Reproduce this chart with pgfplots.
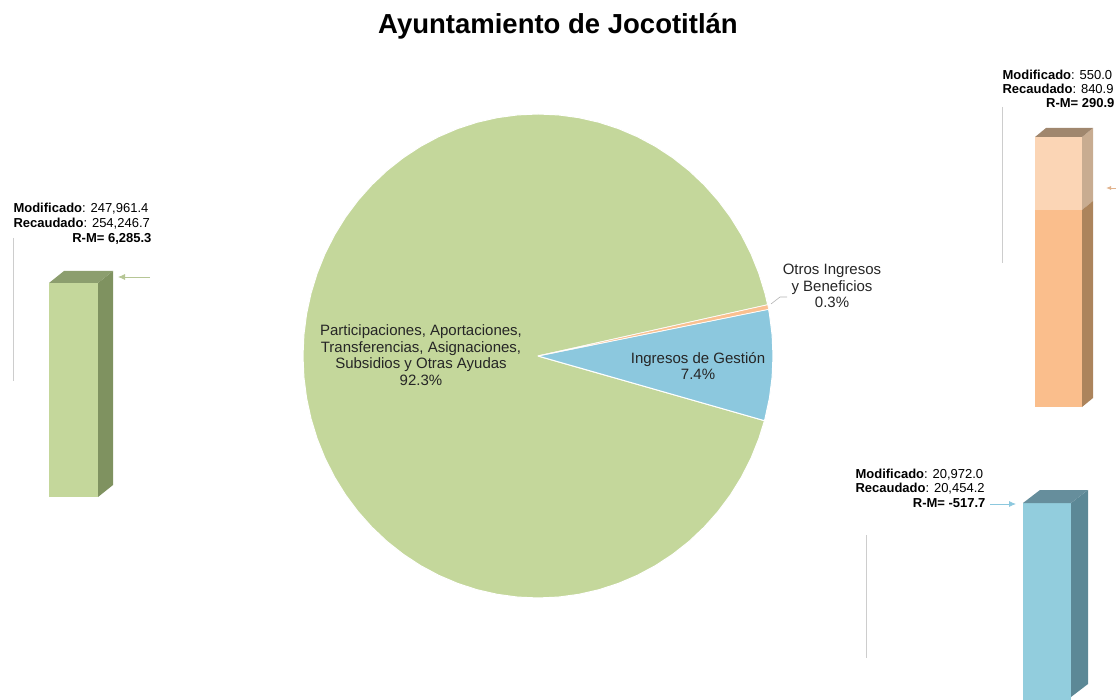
\documentclass[border=0pt]{standalone}
\usepackage{pgfplots}
\pgfplotsset{compat=1.18}
\usepackage{fontspec}
\setmainfont{Liberation Sans}
\usetikzlibrary{arrows.meta}

\definecolor{piegreen}{RGB}{196,215,155}
\definecolor{pieblue}{RGB}{140,200,222}
\definecolor{pieorange}{RGB}{250,192,144}
\definecolor{gside}{RGB}{127,146,96}
\definecolor{gtop}{RGB}{140,158,110}
\definecolor{ofront}{RGB}{250,190,140}
\definecolor{ofrontlt}{RGB}{251,213,181}
\definecolor{oside}{RGB}{172,132,92}
\definecolor{osidelt}{RGB}{200,172,145}
\definecolor{otop}{RGB}{160,135,110}
\definecolor{bfront}{RGB}{146,205,221}
\definecolor{bside}{RGB}{92,136,150}
\definecolor{btop}{RGB}{102,142,156}
\definecolor{leader}{RGB}{205,205,205}

\newcommand{\lbl}{\fontsize{13}{15}\selectfont}
\newcommand{\pielbl}{\fontsize{15}{16.7}\selectfont}

\begin{document}
\begin{tikzpicture}
% pie: 92.3 / 7.4 / 0.3 per cent, drawn in polar data coordinates
\begin{axis}[
  at={(538pt,344pt)}, anchor=center,
  width=470pt, height=484pt, scale only axis,
  xmin=-1, xmax=1, ymin=-1, ymax=1,
  hide axis, clip=false]
\addplot[data cs=polar, fill=piegreen, draw=white, line width=1pt] coordinates {
(0,0) (12.22,1) (15,1) (20,1) (25,1) (30,1) (35,1) (40,1) (45,1) (50,1)
(55,1) (60,1) (65,1) (70,1) (75,1) (80,1) (85,1) (90,1) (95,1) (100,1)
(105,1) (110,1) (115,1) (120,1) (125,1) (130,1) (135,1) (140,1) (145,1)
(150,1) (155,1) (160,1) (165,1) (170,1) (175,1) (180,1) (185,1) (190,1)
(195,1) (200,1) (205,1) (210,1) (215,1) (220,1) (225,1) (230,1) (235,1)
(240,1) (245,1) (250,1) (255,1) (260,1) (265,1) (270,1) (275,1) (280,1)
(285,1) (290,1) (295,1) (300,1) (305,1) (310,1) (315,1) (320,1) (325,1)
(330,1) (335,1) (340,1) (344.5,1) (0,0)};
\addplot[data cs=polar, fill=pieblue, draw=white, line width=1pt] coordinates {
(0,0) (-15.5,1) (-15,1) (-10,1) (-5,1) (0,1) (5,1) (10,1) (11.14,1) (0,0)};
\addplot[data cs=polar, fill=pieorange, draw=white, line width=0.6pt] coordinates {
(0,0) (11.14,1) (12.22,1) (0,0)};
\end{axis}

% everything else in pixel coordinates of the reference
\begin{axis}[
  at={(0pt,0pt)}, anchor=south west,
  width=1119pt, height=700pt, scale only axis,
  xmin=0, xmax=1119, ymin=0, ymax=700, y dir=reverse,
  hide axis, clip=false]
\path (rel axis cs:0,0) rectangle (rel axis cs:1,1);

% green bar
\addplot[fill=piegreen, draw=none] coordinates {(49,283) (98,283) (98,497) (49,497)};
\addplot[fill=gside, draw=none] coordinates {(98,283) (113,271) (113,485) (98,497)};
\addplot[fill=gtop, draw=none] coordinates {(49,283) (64,271) (113,271) (98,283)};

% orange bar (modificado part below, excess above)
\addplot[fill=ofrontlt, draw=none] coordinates {(1035,137) (1082,137) (1082,210) (1035,210)};
\addplot[fill=ofront, draw=none] coordinates {(1035,210) (1082,210) (1082,407) (1035,407)};
\addplot[fill=osidelt, draw=none] coordinates {(1082,137) (1093,128) (1093,201) (1082,210)};
\addplot[fill=oside, draw=none] coordinates {(1082,210) (1093,201) (1093,398) (1082,407)};
\addplot[fill=otop, draw=none] coordinates {(1035,137) (1046,128) (1093,128) (1082,137)};

% blue bar
\addplot[fill=bfront, draw=none] coordinates {(1023,503) (1071,503) (1071,700) (1023,700)};
\addplot[fill=bside, draw=none] coordinates {(1071,503) (1088,490) (1088,684) (1071,697)};
\addplot[fill=btop, draw=none] coordinates {(1023,503) (1040,490) (1088,490) (1071,503)};

% leader lines
\addplot[leader, line width=0.8pt] coordinates {(13,238) (13,381)};
\addplot[leader, line width=0.8pt] coordinates {(1002,107) (1002,263)};
\addplot[leader, line width=0.8pt] coordinates {(866,535) (866,658)};
\addplot[gray!60, line width=0.6pt] coordinates {(771,304) (780,297) (787,297)};

% arrows
\addplot[piegreen!80!gray, line width=0.8pt, -{Latex[length=7pt,width=6pt]}] coordinates {(150,277) (118,277)};
\addplot[pieorange!80!gray, line width=0.8pt, -{Latex[length=5pt,width=4pt]}] coordinates {(1116,188) (1106,188)};
\addplot[pieblue, line width=0.8pt, -{Latex[length=7pt,width=6pt]}] coordinates {(990,504) (1016,504)};

% title
\node[anchor=base, font=\fontsize{27.5}{31}\selectfont\bfseries] at (axis cs:558,34) {Ayuntamiento de Jocotitlán};

% bar labels
\node[anchor=base west, font=\lbl] at (axis cs:10,213) {\textbf{Modificado}: 247,961.4};
\node[anchor=base west, font=\lbl] at (axis cs:10,228) {\textbf{Recaudado}: 254,246.7};
\node[anchor=base east, font=\lbl] at (axis cs:155,243) {\textbf{R-M= 6,285.3}};

\node[anchor=base west, font=\lbl] at (axis cs:999,80) {\textbf{Modificado}: 550.0};
\node[anchor=base west, font=\lbl] at (axis cs:999,94) {\textbf{Recaudado}: 840.9};
\node[anchor=base east, font=\lbl] at (axis cs:1118,108) {\textbf{R-M= 290.9}};

\node[anchor=base west, font=\lbl] at (axis cs:852,478) {\textbf{Modificado}: 20,972.0};
\node[anchor=base west, font=\lbl] at (axis cs:852,492) {\textbf{Recaudado}: 20,454.2};
\node[anchor=base east, font=\lbl] at (axis cs:989,507) {\textbf{R-M= -517.7}};

% pie labels
\node[align=center, font=\pielbl, text=black!85] at (axis cs:421,355)
  {Participaciones, Aportaciones,\\Transferencias, Asignaciones,\\Subsidios y Otras Ayudas\\92.3\%};
\node[align=center, font=\pielbl, text=black!85] at (axis cs:698,366) {Ingresos de Gestión\\7.4\%};
\node[align=center, font=\pielbl, text=black!85] at (axis cs:832,286) {Otros Ingresos\\y Beneficios\\0.3\%};

\end{axis}
\end{tikzpicture}
\end{document}
